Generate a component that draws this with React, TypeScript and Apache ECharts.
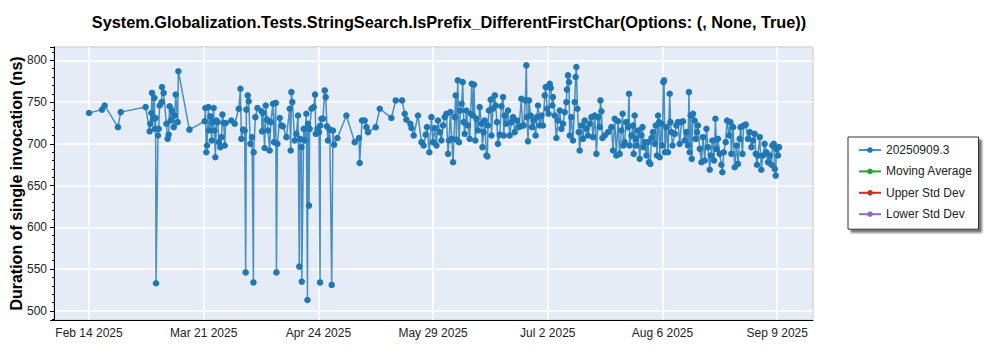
import React, { useEffect, useRef } from 'react';
import * as echarts from 'echarts';

const titleText = 'System.Globalization.Tests.StringSearch.IsPrefix_DifferentFirstChar(Options: (, None, True))';
const yAxisName = 'Duration of single invocation (ns)';
const seriesNames = ['20250909.3', 'Moving Average', 'Upper Std Dev', 'Lower Std Dev'];
const seriesColors = ['#1f77b4', '#2ca02c', '#d62728', '#9467bd'];
const xTickLabels = ['Feb 14 2025', 'Mar 21 2025', 'Apr 24 2025', 'May 29 2025', 'Jul 2 2025', 'Aug 6 2025', 'Sep 9 2025'];
const firstTick = '2025-02-14T18';
const tickStepDays = 34.5;
const xRange = [-0.305, 6.312];
const yRange = [489, 816];

const runs: [string, number][] = [
  ['2025-02-14T18', 737], ['2025-02-18T16', 741], ['2025-02-19T11', 746], ['2025-02-23T11', 720],
  ['2025-02-24T07', 738], ['2025-03-03T19', 744], ['2025-03-05T00', 715], ['2025-03-05T05', 724],
  ['2025-03-05T12', 737], ['2025-03-05T17', 761], ['2025-03-06T00', 730], ['2025-03-06T10', 755],
  ['2025-03-06T14', 718], ['2025-03-06T19', 731], ['2025-03-06T22', 533], ['2025-03-07T12', 710],
  ['2025-03-07T17', 718], ['2025-03-08T00', 746], ['2025-03-08T15', 750], ['2025-03-08T17', 768],
  ['2025-03-09T05', 761], ['2025-03-10T01', 724], ['2025-03-10T10', 706], ['2025-03-10T17', 711],
  ['2025-03-11T00', 745], ['2025-03-11T08', 728], ['2025-03-11T17', 740], ['2025-03-12T06', 720],
  ['2025-03-12T13', 734], ['2025-03-12T20', 759], ['2025-03-13T10', 726], ['2025-03-13T15', 787],
  ['2025-03-16T23', 717],
  ['2025-03-21T13', 727], ['2025-03-21T18', 743], ['2025-03-22T01', 690], ['2025-03-22T06', 698],
  ['2025-03-22T16', 744], ['2025-03-22T20', 716], ['2025-03-23T06', 733], ['2025-03-23T16', 704],
  ['2025-03-23T21', 726], ['2025-03-24T06', 743], ['2025-03-24T11', 716], ['2025-03-24T18', 684],
  ['2025-03-25T02', 728], ['2025-03-25T11', 726], ['2025-03-25T20', 702], ['2025-03-26T06', 696],
  ['2025-03-26T14', 708], ['2025-03-26T21', 735], ['2025-03-27T06', 725], ['2025-03-27T14', 698],
  ['2025-03-27T21', 725], ['2025-03-29T14', 728], ['2025-03-30T14', 724], ['2025-03-31T19', 742],
  ['2025-04-01T07', 766], ['2025-04-01T14', 706], ['2025-04-02T02', 717], ['2025-04-02T14', 716],
  ['2025-04-02T21', 546], ['2025-04-03T02', 741], ['2025-04-03T12', 758], ['2025-04-03T19', 751],
  ['2025-04-04T07', 700], ['2025-04-04T19', 708], ['2025-04-05T05', 534], ['2025-04-05T07', 690],
  ['2025-04-05T19', 732], ['2025-04-06T10', 743], ['2025-04-07T15', 739], ['2025-04-07T19', 715],
  ['2025-04-08T02', 737], ['2025-04-08T14', 695], ['2025-04-08T22', 746], ['2025-04-09T07', 729],
  ['2025-04-09T14', 716], ['2025-04-10T02', 692], ['2025-04-10T10', 726], ['2025-04-11T02', 748],
  ['2025-04-11T10', 702], ['2025-04-11T22', 749], ['2025-04-12T03', 546], ['2025-04-12T10', 700],
  ['2025-04-13T03', 731], ['2025-04-13T15', 722], ['2025-04-14T02', 721], ['2025-04-15T03', 708],
  ['2025-04-16T03', 742], ['2025-04-16T10', 692], ['2025-04-16T15', 762], ['2025-04-16T22', 750],
  ['2025-04-17T15', 704], ['2025-04-18T03', 712], ['2025-04-18T15', 734], ['2025-04-19T00', 553],
  ['2025-04-19T06', 706], ['2025-04-19T15', 696], ['2025-04-19T18', 535], ['2025-04-20T08', 718],
  ['2025-04-20T15', 704], ['2025-04-21T03', 736], ['2025-04-21T11', 513], ['2025-04-21T15', 724],
  ['2025-04-21T22', 626], ['2025-04-22T03', 718], ['2025-04-22T16', 742], ['2025-04-23T08', 744],
  ['2025-04-23T18', 759], ['2025-04-23T23', 712], ['2025-04-24T11', 718], ['2025-04-24T22', 714],
  ['2025-04-25T06', 534], ['2025-04-25T08', 722], ['2025-04-25T16', 730], ['2025-04-26T03', 730],
  ['2025-04-26T16', 764], ['2025-04-26T23', 756], ['2025-04-27T08', 721], ['2025-04-27T15', 704],
  ['2025-04-28T04', 717], ['2025-04-28T18', 531], ['2025-04-29T03', 716], ['2025-04-29T11', 699],
  ['2025-04-30T11', 707], ['2025-05-03T04', 734], ['2025-05-05T16', 702], ['2025-05-06T23', 707],
  ['2025-05-07T04', 677], ['2025-05-07T21', 728], ['2025-05-08T16', 728], ['2025-05-09T05', 720],
  ['2025-05-09T16', 714], ['2025-05-12T00', 720], ['2025-05-13T05', 742], ['2025-05-16T17', 731],
  ['2025-05-18T00', 752], ['2025-05-19T22', 752], ['2025-05-20T17', 736], ['2025-05-21T05', 729],
  ['2025-05-22T10', 724], ['2025-05-22T18', 719], ['2025-05-23T10', 710], ['2025-05-24T17', 734],
  ['2025-05-25T18', 702], ['2025-05-26T10', 698], ['2025-05-27T01', 711], ['2025-05-27T10', 720],
  ['2025-05-28T03', 690], ['2025-05-28T18', 732], ['2025-05-29T05', 702], ['2025-05-29T18', 719],
  ['2025-05-30T06', 698], ['2025-05-30T17', 728], ['2025-05-31T06', 714], ['2025-05-31T18', 704],
  ['2025-06-01T06', 722], ['2025-06-01T18', 732], ['2025-06-02T06', 736], ['2025-06-02T18', 688],
  ['2025-06-03T01', 704], ['2025-06-03T11', 738], ['2025-06-03T20', 706], ['2025-06-04T06', 678],
  ['2025-06-04T18', 732], ['2025-06-05T01', 758], ['2025-06-05T06', 705], ['2025-06-05T16', 776],
  ['2025-06-06T01', 702], ['2025-06-06T11', 740], ['2025-06-06T20', 748], ['2025-06-07T04', 774],
  ['2025-06-07T11', 726], ['2025-06-07T18', 712], ['2025-06-08T06', 740], ['2025-06-08T18', 722],
  ['2025-06-09T06', 706], ['2025-06-09T13', 736], ['2025-06-09T21', 772], ['2025-06-10T06', 734],
  ['2025-06-10T13', 771], ['2025-06-10T23', 704], ['2025-06-11T07', 730], ['2025-06-11T18', 716],
  ['2025-06-12T06', 744], ['2025-06-12T19', 724], ['2025-06-13T02', 696], ['2025-06-13T11', 714],
  ['2025-06-13T18', 728], ['2025-06-14T07', 686], ['2025-06-14T14', 685], ['2025-06-14T18', 722],
  ['2025-06-15T01', 740], ['2025-06-15T14', 753], ['2025-06-15T19', 710], ['2025-06-16T06', 742],
  ['2025-06-16T19', 758], ['2025-06-17T02', 746], ['2025-06-17T11', 726], ['2025-06-17T18', 700],
  ['2025-06-18T07', 711], ['2025-06-18T19', 745], ['2025-06-19T07', 756], ['2025-06-19T12', 710],
  ['2025-06-19T19', 734], ['2025-06-20T07', 724], ['2025-06-20T19', 740], ['2025-06-21T07', 710],
  ['2025-06-21T19', 726], ['2025-06-22T07', 732], ['2025-06-22T19', 714], ['2025-06-23T12', 728],
  ['2025-06-24T02', 720], ['2025-06-24T19', 754], ['2025-06-25T03', 722], ['2025-06-25T12', 722],
  ['2025-06-26T00', 752], ['2025-06-26T07', 794], ['2025-06-26T12', 732], ['2025-06-26T19', 703],
  ['2025-06-27T02', 752], ['2025-06-27T14', 734], ['2025-06-28T00', 720], ['2025-06-28T12', 728],
  ['2025-06-29T02', 710], ['2025-06-29T12', 732], ['2025-06-29T19', 746], ['2025-06-30T07', 722],
  ['2025-06-30T20', 734], ['2025-07-01T07', 722], ['2025-07-01T20', 758], ['2025-07-02T03', 768],
  ['2025-07-02T12', 742], ['2025-07-03T00', 736], ['2025-07-03T08', 772], ['2025-07-03T15', 767],
  ['2025-07-04T03', 746], ['2025-07-04T07', 756], ['2025-07-04T20', 734], ['2025-07-05T08', 707],
  ['2025-07-05T20', 728], ['2025-07-06T08', 740], ['2025-07-06T20', 718], ['2025-07-07T08', 724],
  ['2025-07-07T20', 738], ['2025-07-08T08', 750], ['2025-07-08T12', 765], ['2025-07-08T20', 782],
  ['2025-07-09T03', 774], ['2025-07-09T08', 710], ['2025-07-09T20', 732], ['2025-07-10T08', 704],
  ['2025-07-10T20', 750], ['2025-07-11T03', 780], ['2025-07-11T08', 792], ['2025-07-11T16', 742],
  ['2025-07-12T01', 714], ['2025-07-12T08', 692], ['2025-07-12T21', 722], ['2025-07-13T08', 706],
  ['2025-07-13T20', 728], ['2025-07-14T09', 718], ['2025-07-14T20', 710], ['2025-07-15T09', 724],
  ['2025-07-15T21', 732], ['2025-07-16T08', 708], ['2025-07-16T21', 734], ['2025-07-17T09', 688],
  ['2025-07-17T20', 732], ['2025-07-18T09', 720], ['2025-07-18T14', 752], ['2025-07-18T21', 739],
  ['2025-07-19T04', 707], ['2025-07-19T21', 710], ['2025-07-20T21', 714], ['2025-07-21T21', 720],
  ['2025-07-22T09', 692], ['2025-07-22T21', 730], ['2025-07-23T09', 686], ['2025-07-23T21', 727],
  ['2025-07-24T09', 688], ['2025-07-24T21', 716], ['2025-07-25T06', 736], ['2025-07-25T12', 698],
  ['2025-07-25T20', 702], ['2025-07-26T08', 726], ['2025-07-26T21', 720], ['2025-07-27T04', 760],
  ['2025-07-27T09', 698], ['2025-07-27T22', 710], ['2025-07-28T09', 722], ['2025-07-28T14', 688],
  ['2025-07-28T21', 734], ['2025-07-29T05', 706], ['2025-07-29T10', 698], ['2025-07-29T21', 716],
  ['2025-07-30T09', 682], ['2025-07-30T22', 710], ['2025-07-31T05', 720], ['2025-07-31T14', 696],
  ['2025-07-31T21', 702], ['2025-08-01T10', 686], ['2025-08-01T21', 702], ['2025-08-02T04', 678],
  ['2025-08-02T14', 676], ['2025-08-02T22', 707], ['2025-08-03T09', 714], ['2025-08-03T22', 700],
  ['2025-08-04T05', 722], ['2025-08-04T14', 686], ['2025-08-04T22', 734], ['2025-08-05T05', 726],
  ['2025-08-05T10', 684], ['2025-08-05T22', 724], ['2025-08-06T05', 698], ['2025-08-06T12', 774],
  ['2025-08-06T17', 776], ['2025-08-07T00', 690], ['2025-08-07T10', 720], ['2025-08-07T22', 690],
  ['2025-08-08T10', 760], ['2025-08-08T15', 726], ['2025-08-08T22', 714], ['2025-08-09T06', 698],
  ['2025-08-09T22', 712], ['2025-08-10T10', 722], ['2025-08-10T22', 726], ['2025-08-11T10', 700],
  ['2025-08-11T23', 726], ['2025-08-12T10', 727], ['2025-08-12T22', 704], ['2025-08-13T11', 714],
  ['2025-08-13T22', 698], ['2025-08-14T05', 762], ['2025-08-14T10', 690], ['2025-08-14T18', 734],
  ['2025-08-15T01', 682], ['2025-08-15T10', 736], ['2025-08-15T22', 728], ['2025-08-16T06', 706],
  ['2025-08-16T15', 714], ['2025-08-16T22', 722], ['2025-08-17T11', 694], ['2025-08-17T23', 678],
  ['2025-08-18T10', 708], ['2025-08-18T23', 680], ['2025-08-19T11', 718], ['2025-08-19T22', 696],
  ['2025-08-20T11', 669], ['2025-08-20T18', 686], ['2025-08-21T06', 704], ['2025-08-21T18', 680],
  ['2025-08-22T04', 730], ['2025-08-22T11', 694], ['2025-08-22T22', 706], ['2025-08-23T11', 688],
  ['2025-08-23T23', 675], ['2025-08-24T06', 666], ['2025-08-24T16', 690], ['2025-08-25T06', 702],
  ['2025-08-25T16', 728], ['2025-08-26T06', 710], ['2025-08-26T16', 726], ['2025-08-26T23', 688],
  ['2025-08-27T11', 720], ['2025-08-27T23', 672], ['2025-08-28T12', 698], ['2025-08-28T23', 676],
  ['2025-08-29T11', 706], ['2025-08-29T18', 720], ['2025-08-30T07', 688], ['2025-08-30T16', 722],
  ['2025-08-31T07', 723], ['2025-08-31T23', 706], ['2025-09-01T12', 714], ['2025-09-02T00', 696],
  ['2025-09-02T11', 704], ['2025-09-02T23', 712], ['2025-09-03T07', 688], ['2025-09-03T16', 675],
  ['2025-09-03T23', 686], ['2025-09-04T12', 708], ['2025-09-04T23', 669], ['2025-09-05T11', 686],
  ['2025-09-05T23', 700], ['2025-09-06T12', 690], ['2025-09-06T23', 678], ['2025-09-07T12', 686],
  ['2025-09-08T00', 675], ['2025-09-08T07', 698], ['2025-09-08T17', 700], ['2025-09-09T00', 670],
  ['2025-09-09T07', 662], ['2025-09-09T12', 694], ['2025-09-10T00', 686], ['2025-09-10T07', 696],
];

const fontFamily = '"Liberation Sans", Arial, sans-serif';
const DAY_MS = 86400000;
const parseHour = (s: string) => Date.parse(s + ':00:00Z');

export default function App() {
  const ref = useRef<HTMLDivElement>(null);
  useEffect(() => {
    if (!ref.current) return;
    const chart = echarts.init(ref.current, undefined, { renderer: 'svg' });
    const t0 = parseHour(firstTick);
    const toX = (s: string) => (parseHour(s) - t0) / (tickStepDays * DAY_MS);
    const mainData = runs.map(([d, v]) => [toX(d), v]);

    chart.setOption({
      animation: false,
      backgroundColor: '#ffffff',
      textStyle: { fontFamily },
      title: {
        text: titleText,
        left: 444,
        top: 9,
        textAlign: 'center',
        textStyle: { fontSize: 16.3, fontWeight: 'bold', color: '#000', fontFamily },
      },
      legend: {
        orient: 'vertical',
        left: 848,
        top: 137,
        data: seriesNames,
        itemWidth: 22,
        itemHeight: 7,
        itemGap: 7.4,
        padding: [6, 6, 8, 10],
        backgroundColor: '#ffffff',
        borderColor: '#333333',
        borderWidth: 1,
        shadowColor: 'rgba(0,0,0,0.55)',
        shadowOffsetX: 3,
        shadowOffsetY: 3,
        shadowBlur: 2,
        selectedMode: false,
        textStyle: { fontSize: 12, lineHeight: 14, color: '#222', fontFamily },
      },
      grid: {
        left: 54,
        right: 187,
        top: 47,
        bottom: 30,
        outerBoundsMode: 'none',
        containLabel: false,
        show: true,
        backgroundColor: '#e5ecf6',
        borderColor: '#000',
        borderWidth: 1,
      },
      xAxis: {
        type: 'value',
        min: xRange[0],
        max: xRange[1],
        minInterval: 1,
        maxInterval: 1,
        axisLine: { show: true, onZero: false, lineStyle: { color: '#000', width: 1 } },
        axisTick: { show: false },
        splitLine: { show: true, lineStyle: { color: '#ffffff', width: 1.5 } },
        axisLabel: {
          showMinLabel: false,
          showMaxLabel: false,
          margin: 7,
          fontSize: 12,
          color: '#222',
          formatter: (v: number) => {
            const i = Math.round(v);
            return Math.abs(v - i) < 1e-6 && xTickLabels[i] ? xTickLabels[i] : '';
          },
        },
      },
      yAxis: {
        type: 'value',
        min: yRange[0],
        max: yRange[1],
        minInterval: 50,
        maxInterval: 50,
        name: yAxisName,
        nameLocation: 'middle',
        nameGap: 30,
        nameMoveOverlap: false,
        nameTextStyle: { fontSize: 16, fontWeight: 'bold', color: '#000', fontFamily },
        axisLine: { show: true, onZero: false, lineStyle: { color: '#000', width: 1 } },
        axisTick: { show: true, length: 4, lineStyle: { color: '#000' } },
        minorTick: { show: true, splitNumber: 5, length: 2, lineStyle: { color: '#000' } },
        splitLine: { show: true, lineStyle: { color: '#ffffff', width: 1.5 } },
        axisLabel: {
          showMinLabel: false,
          showMaxLabel: false,
          margin: 7,
          fontSize: 12,
          color: '#222',
        },
      },
      series: [
        {
          name: seriesNames[0],
          type: 'line',
          data: mainData,
          symbol: 'circle',
          symbolSize: 6.5,
          color: seriesColors[0],
          lineStyle: { width: 1.5, color: seriesColors[0], opacity: 0.8 },
          itemStyle: { color: seriesColors[0] },
          z: 3,
        },
        ...seriesNames.slice(1).map((name, i) => ({
          name,
          type: 'line',
          data: [] as number[][],
          symbol: 'circle',
          symbolSize: 6,
          color: seriesColors[i + 1],
          lineStyle: { width: 1.5, color: seriesColors[i + 1] },
          itemStyle: { color: seriesColors[i + 1] },
        })),
      ],
    });
    return () => chart.dispose();
  }, []);
  return <div ref={ref} style={{ position: 'absolute', left: 0, top: 0, width: 1000, height: 350 }} />;
}
